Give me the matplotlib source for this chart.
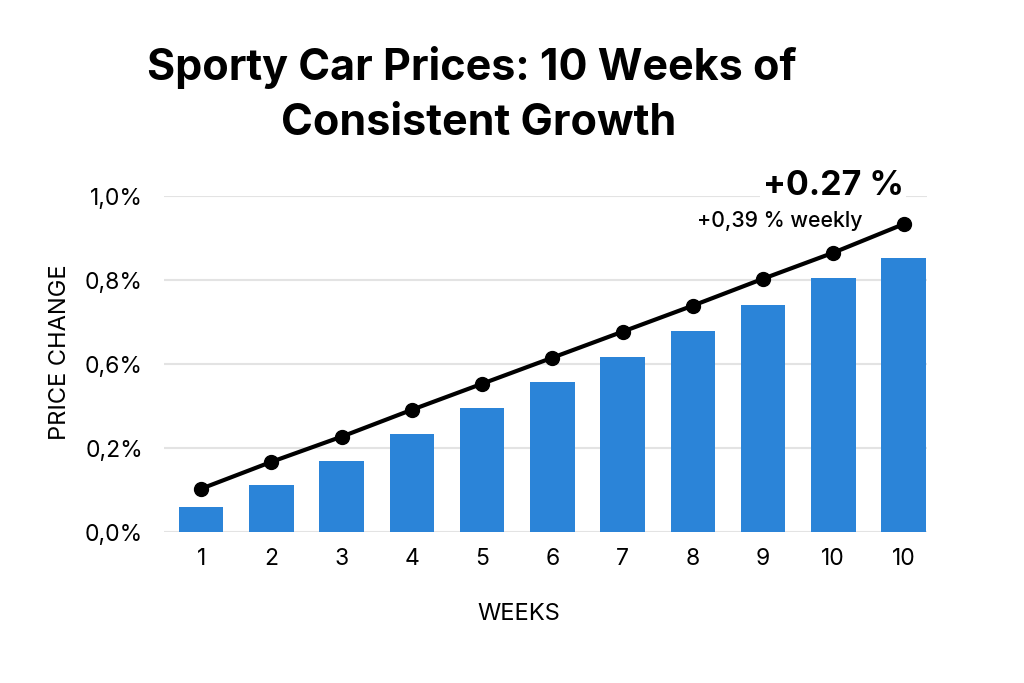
import matplotlib
matplotlib.use("Agg")
import matplotlib.pyplot as plt
import numpy as np

# data (in gridline steps, labels below)
week_labels = ["1", "2", "3", "4", "5", "6", "7", "8", "9", "10", "10"]
bar_values = [0.30, 0.57, 0.85, 1.17, 1.48, 1.79, 2.09, 2.40, 2.71, 3.03, 3.27]
line_values = [0.52, 0.84, 1.14, 1.46, 1.77, 2.08, 2.39, 2.70, 3.02, 3.33, 3.67]
ytick_labels = ["0,0%", "0,2%", "0,6%", "0,8%", "1,0%"]

plt.rcParams['font.family'] = ['Inter', 'DejaVu Sans']

fig = plt.figure(figsize=(10.24, 6.83), dpi=100)
ax = fig.add_axes([0.160, 0.2204, 0.745, 0.492])

x = np.arange(len(week_labels))
ax.bar(x, bar_values, width=0.634, color="#2b84d8", zorder=2)
ax.plot(x, line_values, color="black", lw=3, marker="o", ms=10, zorder=3,
        clip_on=False)

ax.set_xlim(-0.53, 10.33)
ax.set_ylim(0, 4)
ax.set_yticks(range(len(ytick_labels)))
ax.set_yticklabels(ytick_labels)
ax.set_xticks(x)
ax.set_xticklabels(week_labels)
ax.grid(axis="y", color="#e3e3e3", lw=1.5, zorder=0)
for s in ax.spines.values():
    s.set_visible(False)
ax.tick_params(length=0, labelsize=16.5, colors="black")
ax.tick_params(axis="x", pad=11)
ax.tick_params(axis="y", pad=15)

ax.set_xlabel("WEEKS", fontsize=17, labelpad=24)
ax.xaxis.label.set_x(0.4655)
ax.set_ylabel("PRICE CHANGE", fontsize=17, labelpad=10)
ax.yaxis.label.set_y(0.536)

ax.text(10.0, 4.13, "+0.27 %", fontsize=24.5, fontweight="bold", ha="right",
        va="center", bbox=dict(facecolor="white", edgecolor="none", pad=2))
ax.text(9.41, 3.71, "+0,39 % weekly", fontsize=15.3, fontweight="medium",
        ha="right", va="center")

# title, two lines placed by baseline
fig.text(0.4605, 0.8836, "Sporty Car Prices: 10 Weeks of",
         fontsize=31, fontweight="bold", ha="center", va="baseline")
fig.text(0.467, 0.8023, "Consistent Growth",
         fontsize=31, fontweight="bold", ha="center", va="baseline")

fig.savefig("out.png", dpi=100)
